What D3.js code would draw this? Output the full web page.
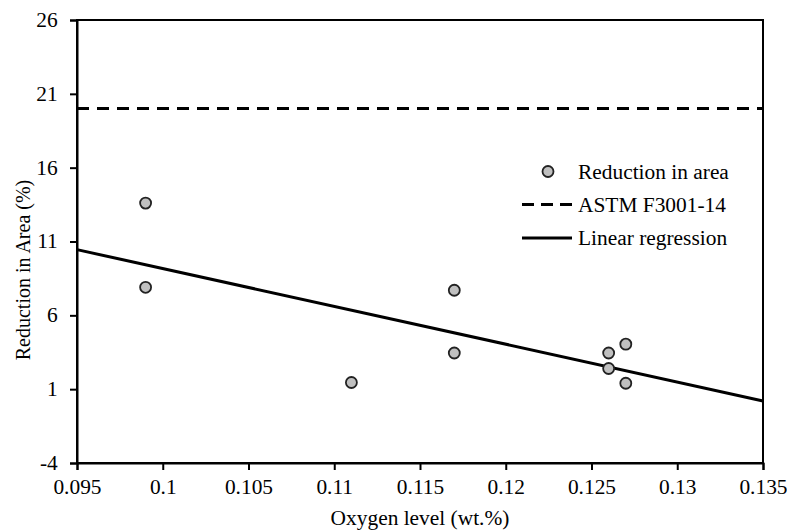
<!DOCTYPE html>
<html><head><meta charset="utf-8">
<script src="https://cdn.jsdelivr.net/npm/d3@7"></script>
</head><body>
<script>
// Data
const oxygen = [0.099, 0.099, 0.111, 0.117, 0.117, 0.126, 0.126, 0.127, 0.127];
const reductionArea = [13.6, 7.9, 1.45, 7.7, 3.45, 3.45, 2.4, 4.05, 1.4];
const astmLimit = 20;
const regressionX = [0.095, 0.135];
const regressionY = [10.45, 0.2];
const xTicks = [0.095, 0.1, 0.105, 0.11, 0.115, 0.12, 0.125, 0.13, 0.135];
const yTicks = [-4, 1, 6, 11, 16, 21, 26];
const legendLabels = ["Reduction in area", "ASTM F3001-14", "Linear regression"];

const W = 787, H = 532;
const m = {left: 77, right: 24, top: 20, bottom: 69};
const serifFamily = '"Liberation Serif"';
const fs = 20;
const sx = 1.07; // horizontal text stretch seen in the reference

d3.select("body").style("margin", "0px");
const svg = d3.select("body").append("svg").attr("width", W).attr("height", H)
  .style("display", "block").style("font-family", serifFamily);
const x = d3.scaleLinear().domain([0.095, 0.135]).range([m.left, W - m.right]);
const y = d3.scaleLinear().domain([-4, 26]).range([H - m.bottom, m.top]);

// frame
svg.append("rect").attr("x", x(0.095)).attr("y", y(26))
  .attr("width", x(0.135) - x(0.095)).attr("height", y(-4) - y(26))
  .attr("fill", "none").attr("stroke", "#000").attr("stroke-width", 2);

const xAxis = svg.append("g").attr("transform", `translate(0,${y(-4)})`)
  .call(d3.axisBottom(x).tickValues(xTicks).tickFormat(d => String(+d.toFixed(3))).tickSize(7).tickPadding(10));
const yAxis = svg.append("g").attr("transform", `translate(${x(0.095)},0)`)
  .call(d3.axisLeft(y).tickValues(yTicks).tickFormat(d => String(d)).tickSize(7).tickPadding(11));
[xAxis, yAxis].forEach(g => {
  g.attr("font-family", null).attr("font-size", null);
  g.select(".domain").attr("stroke-width", 2);
  g.selectAll(".tick line").attr("stroke-width", 2);
  g.selectAll("text").style("font-family", serifFamily).attr("font-size", fs)
    .attr("fill", "#000").attr("transform", `scale(${sx},1)`);
});

// ASTM line
svg.append("line").attr("x1", x(0.095)).attr("x2", x(0.135))
  .attr("y1", y(astmLimit)).attr("y2", y(astmLimit))
  .attr("stroke", "#000").attr("stroke-width", 3).attr("stroke-dasharray", "12,8");

// regression
svg.append("path").datum(regressionX.map((d, i) => [d, regressionY[i]]))
  .attr("d", d3.line().x(d => x(d[0])).y(d => y(d[1])))
  .attr("stroke", "#000").attr("stroke-width", 3).attr("fill", "none");

// points
svg.selectAll("circle.pt").data(oxygen.map((d, i) => [d, reductionArea[i]])).enter()
  .append("circle").attr("class", "pt")
  .attr("cx", d => x(d[0])).attr("cy", d => y(d[1])).attr("r", 5.5)
  .attr("fill", "#c0c0c0").attr("stroke", "#222").attr("stroke-width", 1.8);

// axis titles
svg.append("text").attr("transform", `translate(${(x(0.095) + x(0.135)) / 2},525) scale(${sx},1)`)
  .attr("text-anchor", "middle").style("font-family", serifFamily).attr("font-size", fs)
  .text("Oxygen level (wt.%)");
svg.append("text").attr("transform", `translate(30,270) rotate(-90)`)
  .attr("text-anchor", "middle").style("font-family", serifFamily).attr("font-size", fs)
  .text("Reduction in Area (%)");

// legend
const lg = svg.append("g");
const ly = [171.5, 204.5, 238];
lg.append("circle").attr("cx", 548).attr("cy", ly[0]).attr("r", 5.5)
  .attr("fill", "#c0c0c0").attr("stroke", "#222").attr("stroke-width", 1.8);
lg.append("line").attr("x1", 522).attr("x2", 572).attr("y1", ly[1]).attr("y2", ly[1])
  .attr("stroke", "#000").attr("stroke-width", 3).attr("stroke-dasharray", "12,7");
lg.append("line").attr("x1", 522).attr("x2", 572).attr("y1", ly[2]).attr("y2", ly[2])
  .attr("stroke", "#000").attr("stroke-width", 3);
legendLabels.forEach((t, i) => {
  lg.append("text").attr("transform", `translate(578,${ly[i]}) scale(${sx},1)`).attr("dy", "0.35em")
    .style("font-family", serifFamily).attr("font-size", fs).text(t);
});
</script>
</body></html>
